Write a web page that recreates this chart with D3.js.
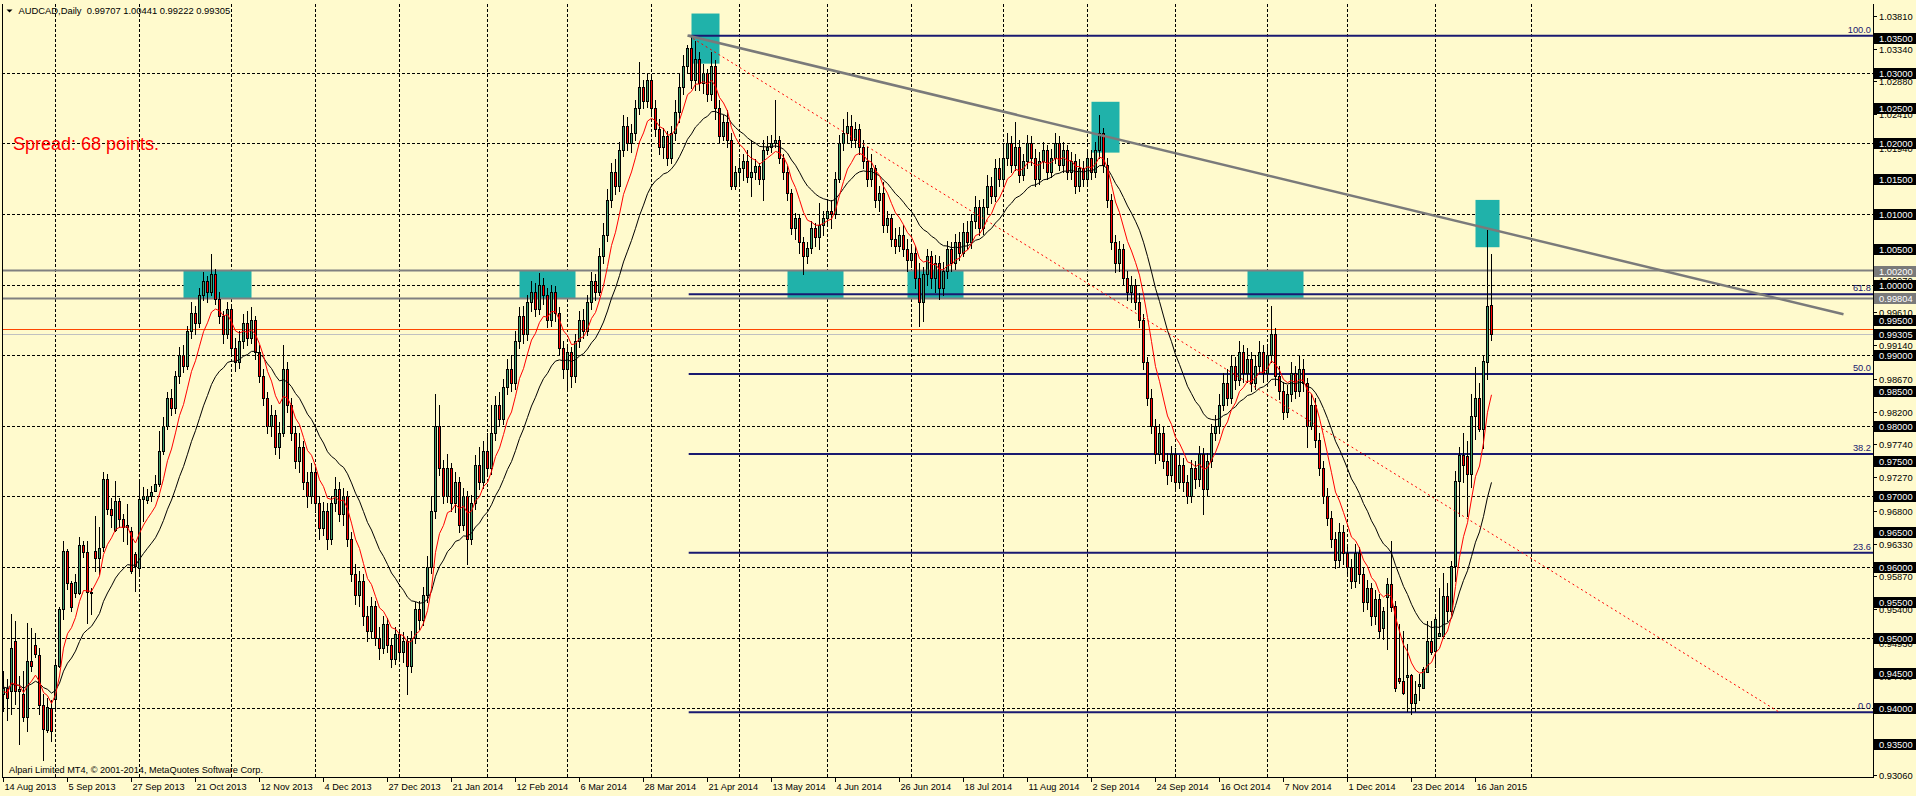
<!DOCTYPE html>
<html><head><meta charset="utf-8">
<script src="https://cdn.jsdelivr.net/npm/d3@7"></script>
<style>
html,body{margin:0;padding:0;background:#FFFACD;overflow:hidden;}
svg{display:block;font-family:"Liberation Sans",Arial,sans-serif;}
</style></head><body>
<svg id="c" width="1916" height="796"></svg>
<script>
// ---------- DATA ----------
const symbolTitle = "AUDCAD,Daily";
const lastQuote = ["0.99707", "1.00441", "0.99222", "0.99305"];
const spreadText = "Spread: 68 points.";
const copyright = "Alpari Limited MT4, \u00A9 2001-2014, MetaQuotes Software Corp.";
const firstBarDate = [2013, 8, 14];
const dateLabels = ["14 Aug 2013","5 Sep 2013","27 Sep 2013","21 Oct 2013","12 Nov 2013","4 Dec 2013","27 Dec 2013","21 Jan 2014","12 Feb 2014","6 Mar 2014","28 Mar 2014","21 Apr 2014","13 May 2014","4 Jun 2014","26 Jun 2014","18 Jul 2014","11 Aug 2014","2 Sep 2014","24 Sep 2014","16 Oct 2014","7 Nov 2014","1 Dec 2014","23 Dec 2014","16 Jan 2015"];
const dateLabelEvery = 16;
const priceTicks = ["1.03810","1.03340","1.02880","1.02410","1.01940","1.01470","1.01000","1.00540","1.00070","0.99610","0.99140","0.98670","0.98200","0.97740","0.97270","0.96800","0.96330","0.95870","0.95400","0.94930","0.94460","0.94000","0.93530","0.93060"];
const roundLevels = [1.035,1.030,1.025,1.020,1.015,1.010,1.005,1.000,0.995,0.990,0.985,0.980,0.975,0.970,0.965,0.960,0.955,0.950,0.945,0.940,0.935];
const gridLevels = [1.030,1.020,1.010,1.000,0.990,0.980,0.970,0.960,0.950,0.940];
const grayLevels = [1.00200, 0.99804];
const bidPrice = 0.99305, askPrice = 0.99373;
const futureGridBars = [382];

// daily OHLC, 14 Aug 2013 .. 22 Jan 2015 (373 bars)
const open = [
0.9420,0.9429,0.9425,0.9495,0.9424,0.9420,0.9387,0.9467,0.9489,0.9475,
0.9404,0.9369,0.9401,0.9413,0.9460,0.9540,0.9623,0.9577,0.9563,0.9563,
0.9631,0.9621,0.9565,0.9623,0.9613,0.9628,0.9724,0.9682,0.9652,0.9694,
0.9668,0.9656,0.9651,0.9618,0.9599,0.9696,0.9695,0.9700,0.9708,0.9717,
0.9765,
0.9800,0.9840,0.9825,0.9870,0.9900,0.9885,0.9935,0.9960,0.9945,0.9985,
1.0005,0.9990,1.0015,0.9980,0.9955,0.9930,0.9965,0.9910,0.9890,0.9920,
0.9945,0.9925,0.9950,0.9905,0.9870,0.9840,0.9800,0.9815,0.9770,0.9790,
0.9880,0.9830,0.9790,0.9750,0.9770,0.9720,0.9700,0.9735,0.9690,0.9655,
0.9680,0.9640,0.9690,0.9710,0.9675,0.9700,0.9640,0.9590,0.9560,0.9580,
0.9530,0.9510,0.9545,0.9500,0.9485,0.9520,0.9490,0.9470,0.9505,0.9480,
0.9495,0.9460,0.9500,0.9540,0.9525,0.9560,0.9600,0.9680,0.9800,0.9740,
0.9700,0.9740,0.9690,0.9720,0.9660,0.9700,0.9640,0.9690,0.9745,0.9720,
0.9765,0.9740,0.9790,0.9830,0.9810,0.9855,0.9880,0.9860,0.9920,0.9955,
0.9930,0.9975,0.9990,0.9965,1.0000,0.9985,0.9950,0.9990,0.9960,0.9910,
0.9880,0.9905,0.9870,0.9920,0.9950,0.9935,0.9975,1.0005,0.9990,1.0040,
1.0070,1.0120,1.0160,1.0140,1.0190,1.0225,1.0200,1.0215,1.0250,1.0280,
1.0260,1.0290,1.0250,1.0220,1.0195,1.0210,1.0180,1.0215,1.0245,1.0280,
1.0310,1.0335,1.0290,1.0320,1.0285,1.0300,1.0270,1.0310,1.0250,1.0210,
1.0230,1.0205,1.0140,1.0160,1.0165,1.0175,1.0152,1.0160,1.0168,1.0150,
1.0190,1.0195,1.0200,1.0205,1.0180,1.0160,1.0130,1.0080,1.0095,1.0060,
1.0040,1.0052,1.0080,1.0068,1.0085,1.0095,1.0105,1.0100,1.0150,1.0200,
1.0215,1.0225,1.0205,1.0220,1.0195,1.0175,1.0150,1.0165,1.0120,1.0130,
1.0085,1.0095,1.0065,1.0055,1.0070,1.0050,1.0035,1.0045,1.0010,0.9975,
1.0015,1.0040,1.0010,1.0030,0.9995,1.0020,1.0050,1.0030,1.0060,1.0045,
1.0075,1.0060,1.0090,1.0110,1.0080,1.0110,1.0140,1.0125,1.0165,1.0150,
1.0180,1.0200,1.0170,1.0195,1.0155,1.0175,1.0200,1.0180,1.0150,1.0175,
1.0190,1.0160,1.0180,1.0200,1.0170,1.0190,1.0160,1.0175,1.0140,1.0165,
1.0150,1.0180,1.0160,1.0190,1.0215,1.0170,1.0120,1.0060,1.0030,1.0050,
1.0010,0.9990,1.0000,0.9975,0.9950,0.9890,0.9840,0.9800,0.9760,0.9790,
0.9750,0.9730,0.9760,0.9720,0.9745,0.9720,0.9700,0.9740,0.9725,0.9760,
0.9710,0.9750,0.9790,0.9800,0.9830,0.9860,0.9840,0.9885,0.9865,0.9905,
0.9875,0.9895,0.9860,0.9885,0.9905,0.9875,0.9900,0.9930,0.9870,0.9850,
0.9820,0.9845,0.9875,0.9850,0.9880,0.9860,0.9800,0.9830,0.9780,0.9740,
0.9700,0.9670,0.9640,0.9610,0.9650,0.9620,0.9600,0.9580,0.9620,0.9590,
0.9550,0.9570,0.9530,0.9555,
0.9514,0.9557,0.9576,0.9545,0.9443,0.9439,0.9444,0.9447,0.9408,0.9431,
0.9429,0.9451,0.9495,0.9481,0.9502,0.9502,0.9559,0.9538,0.9602,0.9722,
0.9758,0.9757,0.9732,0.9814,0.9839,0.9795,0.9891,0.99707];
const high = [
0.9453,0.9441,0.9533,0.9524,0.9446,0.9453,0.9521,0.9514,0.9507,0.9486,
0.9420,0.9415,0.9411,0.9467,0.9543,0.9637,0.9625,0.9580,0.9590,0.9642,
0.9637,0.9637,0.9571,0.9672,0.9656,0.9734,0.9732,0.9698,0.9722,0.9698,
0.9675,0.9689,0.9656,0.9621,0.9720,0.9713,0.9710,0.9715,0.9731,0.9793,
0.9812,
0.9848,0.9852,0.9878,0.9912,0.9915,0.9942,0.9975,0.9970,0.9995,1.0018,
1.0012,1.0043,1.0022,0.9990,0.9962,0.9975,0.9970,0.9925,0.9935,0.9958,
0.9962,0.9968,0.9955,0.9915,0.9880,0.9848,0.9830,0.9822,0.9805,0.9915,
0.9890,0.9840,0.9800,0.9790,0.9778,0.9735,0.9748,0.9742,0.9700,0.9692,
0.9690,0.9700,0.9728,0.9720,0.9712,0.9708,0.9650,0.9605,0.9595,0.9590,
0.9545,0.9558,0.9552,0.9515,0.9530,0.9528,0.9500,0.9515,0.9512,0.9508,
0.9502,0.9510,0.9550,0.9552,0.9572,0.9615,0.9700,0.9845,0.9830,0.9752,
0.9760,0.9748,0.9735,0.9728,0.9712,0.9708,0.9702,0.9758,0.9770,0.9778,
0.9790,0.9830,0.9842,0.9848,0.9866,0.9895,0.9900,0.9935,0.9968,0.9970,
0.9985,1.0005,1.0002,1.0016,1.0010,0.9995,1.0000,0.9998,0.9968,0.9920,
0.9915,0.9912,0.9930,0.9962,0.9965,0.9985,1.0018,1.0015,1.0052,1.0088,
1.0135,1.0172,1.0178,1.0202,1.0240,1.0238,1.0228,1.0262,1.0315,1.0290,
1.0300,1.0298,1.0262,1.0235,1.0222,1.0218,1.0225,1.0262,1.0300,1.0325,
1.0340,1.0353,1.0345,1.0330,1.0312,1.0305,1.0330,1.0318,1.0262,1.0240,
1.0248,1.0215,1.0168,1.0180,1.0185,1.0190,1.0205,1.0178,1.0172,1.0205,
1.0210,1.0212,1.0262,1.0210,1.0185,1.0168,1.0135,1.0102,1.0100,1.0068,
1.0060,1.0090,1.0088,1.0115,1.0105,1.0118,1.0120,1.0160,1.0212,1.0235,
1.0245,1.0240,1.0230,1.0228,1.0205,1.0195,1.0185,1.0170,1.0140,1.0145,
1.0105,1.0100,1.0080,1.0082,1.0085,1.0065,1.0058,1.0055,1.0030,1.0025,
1.0050,1.0048,1.0042,1.0040,1.0032,1.0062,1.0060,1.0072,1.0075,1.0088,
1.0090,1.0100,1.0125,1.0120,1.0122,1.0155,1.0152,1.0178,1.0180,1.0195,
1.0215,1.0210,1.0230,1.0205,1.0185,1.0212,1.0210,1.0192,1.0188,1.0202,
1.0198,1.0192,1.0215,1.0210,1.0202,1.0198,1.0188,1.0185,1.0178,1.0175,
1.0192,1.0190,1.0202,1.0240,1.0222,1.0180,1.0128,1.0070,1.0062,1.0058,
1.0020,1.0012,1.0008,0.9988,0.9958,0.9898,0.9852,0.9810,0.9802,0.9798,
0.9762,0.9772,0.9768,0.9758,0.9755,0.9730,0.9752,0.9750,0.9772,0.9768,
0.9762,0.9802,0.9815,0.9845,0.9875,0.9880,0.9900,0.9898,0.9920,0.9915,
0.9910,0.9905,0.9900,0.9920,0.9915,0.9912,0.9970,0.9938,0.9885,0.9862,
0.9858,0.9890,0.9885,0.9900,0.9895,0.9868,0.9845,0.9840,0.9790,0.9750,
0.9712,0.9680,0.9650,0.9662,0.9660,0.9632,0.9612,0.9632,0.9628,0.9600,
0.9582,0.9578,0.9568,0.9562,
0.9543,0.9585,0.9637,0.9552,0.9519,0.9510,0.9491,0.9448,0.9439,0.9448,
0.9458,0.9524,0.9524,0.9533,0.9571,0.9592,0.9578,0.9609,0.9736,0.9770,
0.9790,0.9779,0.9845,0.9883,0.9861,0.9901,1.0078,1.00441];
const low = [
0.9396,0.9384,0.9392,0.9406,0.9349,0.9382,0.9368,0.9453,0.9472,0.9392,
0.9326,0.9366,0.9354,0.9401,0.9458,0.9526,0.9569,0.9538,0.9557,0.9562,
0.9614,0.9521,0.9533,0.9595,0.9590,0.9623,0.9675,0.9656,0.9651,0.9656,
0.9637,0.9632,0.9592,0.9566,0.9590,0.9665,0.9690,0.9694,0.9708,0.9715,
0.9760,
0.9795,0.9815,0.9818,0.9860,0.9876,0.9880,0.9925,0.9930,0.9940,0.9978,
0.9975,0.9985,0.9972,0.9945,0.9918,0.9925,0.9900,0.9878,0.9882,0.9910,
0.9915,0.9918,0.9895,0.9862,0.9830,0.9790,0.9785,0.9760,0.9755,0.9785,
0.9820,0.9780,0.9740,0.9735,0.9710,0.9685,0.9690,0.9678,0.9640,0.9645,
0.9625,0.9632,0.9680,0.9665,0.9660,0.9630,0.9580,0.9548,0.9545,0.9518,
0.9495,0.9500,0.9490,0.9470,0.9478,0.9480,0.9458,0.9462,0.9470,0.9465,
0.9420,0.9452,0.9492,0.9512,0.9518,0.9550,0.9592,0.9670,0.9730,0.9690,
0.9692,0.9680,0.9678,0.9650,0.9652,0.9605,0.9632,0.9682,0.9710,0.9712,
0.9730,0.9732,0.9780,0.9800,0.9802,0.9845,0.9850,0.9852,0.9910,0.9918,
0.9922,0.9962,0.9955,0.9958,0.9972,0.9940,0.9942,0.9948,0.9900,0.9868,
0.9850,0.9855,0.9862,0.9912,0.9925,0.9928,0.9965,0.9978,0.9985,1.0030,
1.0062,1.0110,1.0128,1.0132,1.0182,1.0190,1.0188,1.0205,1.0242,1.0250,
1.0252,1.0240,1.0210,1.0185,1.0180,1.0170,1.0172,1.0205,1.0230,1.0270,
1.0300,1.0278,1.0275,1.0275,1.0272,1.0260,1.0262,1.0235,1.0200,1.0205,
1.0195,1.0135,1.0135,1.0140,1.0148,1.0145,1.0125,1.0150,1.0142,1.0120,
1.0185,1.0188,1.0195,1.0172,1.0150,1.0120,1.0072,1.0065,1.0045,1.0015,
1.0030,1.0045,1.0055,1.0050,1.0070,1.0085,1.0080,1.0095,1.0145,1.0190,
1.0200,1.0195,1.0195,1.0185,1.0165,1.0140,1.0140,1.0110,1.0105,1.0075,
1.0075,1.0055,1.0045,1.0048,1.0040,1.0020,1.0025,0.9995,0.9942,0.9948,
1.0000,0.9995,0.9990,0.9980,0.9985,1.0010,1.0020,1.0022,1.0035,1.0040,
1.0050,1.0052,1.0080,1.0070,1.0072,1.0100,1.0115,1.0118,1.0140,1.0142,
1.0170,1.0160,1.0162,1.0145,1.0148,1.0165,1.0170,1.0140,1.0142,1.0165,
1.0150,1.0152,1.0172,1.0162,1.0160,1.0150,1.0150,1.0130,1.0132,1.0140,
1.0142,1.0150,1.0152,1.0180,1.0160,1.0110,1.0050,1.0018,1.0020,1.0000,
0.9978,0.9975,0.9965,0.9940,0.9880,0.9830,0.9790,0.9748,0.9752,0.9740,
0.9718,0.9722,0.9710,0.9712,0.9708,0.9690,0.9692,0.9712,0.9715,0.9675,
0.9700,0.9742,0.9780,0.9790,0.9822,0.9830,0.9832,0.9852,0.9858,0.9862,
0.9862,0.9850,0.9852,0.9875,0.9862,0.9865,0.9890,0.9858,0.9838,0.9810,
0.9812,0.9835,0.9840,0.9842,0.9850,0.9770,0.9795,0.9770,0.9730,0.9690,
0.9660,0.9628,0.9598,0.9600,0.9605,0.9588,0.9570,0.9572,0.9578,0.9538,
0.9540,0.9518,0.9520,0.9500,
0.9498,0.9484,0.9538,0.9425,0.9436,0.9420,0.9396,0.9392,0.9396,0.9411,
0.9429,0.9451,0.9477,0.9458,0.9502,0.9500,0.9524,0.9533,0.9580,0.9672,
0.9720,0.9672,0.9713,0.9781,0.9793,0.9769,0.9867,0.99222];
const close = [
0.9429,0.9415,0.9486,0.9425,0.9427,0.9387,0.9467,0.9460,0.9477,0.9404,
0.9370,0.9402,0.9368,0.9461,0.9540,0.9623,0.9577,0.9544,0.9579,0.9631,
0.9621,0.9564,0.9563,0.9613,0.9627,0.9724,0.9682,0.9674,0.9694,0.9668,
0.9656,0.9660,0.9595,0.9602,0.9696,0.9700,0.9701,0.9706,0.9718,0.9765,
0.9800,
0.9840,0.9825,0.9870,0.9900,0.9885,0.9935,0.9960,0.9945,0.9985,1.0005,
0.9990,1.0015,0.9980,0.9955,0.9930,0.9965,0.9910,0.9890,0.9920,0.9945,
0.9925,0.9950,0.9905,0.9870,0.9840,0.9800,0.9815,0.9770,0.9790,0.9880,
0.9830,0.9790,0.9750,0.9770,0.9720,0.9700,0.9735,0.9690,0.9655,0.9680,
0.9640,0.9690,0.9710,0.9675,0.9700,0.9640,0.9590,0.9560,0.9580,0.9530,
0.9510,0.9545,0.9500,0.9485,0.9520,0.9490,0.9470,0.9505,0.9480,0.9495,
0.9460,0.9500,0.9540,0.9525,0.9560,0.9600,0.9680,0.9800,0.9740,0.9700,
0.9740,0.9690,0.9720,0.9660,0.9700,0.9640,0.9690,0.9745,0.9720,0.9765,
0.9740,0.9790,0.9830,0.9810,0.9855,0.9880,0.9860,0.9920,0.9955,0.9930,
0.9975,0.9990,0.9965,1.0000,0.9985,0.9950,0.9990,0.9960,0.9910,0.9880,
0.9905,0.9870,0.9920,0.9950,0.9935,0.9975,1.0005,0.9990,1.0040,1.0070,
1.0120,1.0160,1.0140,1.0190,1.0225,1.0200,1.0215,1.0250,1.0280,1.0260,
1.0290,1.0250,1.0220,1.0195,1.0210,1.0180,1.0215,1.0245,1.0280,1.0310,
1.0335,1.0290,1.0320,1.0285,1.0300,1.0270,1.0310,1.0250,1.0210,1.0230,
1.0205,1.0140,1.0160,1.0165,1.0175,1.0152,1.0160,1.0168,1.0150,1.0190,
1.0195,1.0200,1.0205,1.0180,1.0160,1.0130,1.0080,1.0095,1.0060,1.0040,
1.0052,1.0080,1.0068,1.0085,1.0095,1.0105,1.0100,1.0150,1.0200,1.0215,
1.0225,1.0205,1.0220,1.0195,1.0175,1.0150,1.0165,1.0120,1.0130,1.0085,
1.0095,1.0065,1.0055,1.0070,1.0050,1.0035,1.0045,1.0010,0.9975,1.0015,
1.0040,1.0010,1.0030,0.9995,1.0020,1.0050,1.0030,1.0060,1.0045,1.0075,
1.0060,1.0090,1.0110,1.0080,1.0110,1.0140,1.0125,1.0165,1.0150,1.0180,
1.0200,1.0170,1.0195,1.0155,1.0175,1.0200,1.0180,1.0150,1.0175,1.0190,
1.0160,1.0180,1.0200,1.0170,1.0190,1.0160,1.0175,1.0140,1.0165,1.0150,
1.0180,1.0160,1.0190,1.0215,1.0170,1.0120,1.0060,1.0030,1.0050,1.0010,
0.9990,1.0000,0.9975,0.9950,0.9890,0.9840,0.9800,0.9760,0.9790,0.9750,
0.9730,0.9760,0.9720,0.9745,0.9720,0.9700,0.9740,0.9725,0.9760,0.9710,
0.9750,0.9790,0.9800,0.9830,0.9860,0.9840,0.9885,0.9865,0.9905,0.9875,
0.9895,0.9860,0.9885,0.9905,0.9875,0.9900,0.9930,0.9870,0.9850,0.9820,
0.9845,0.9875,0.9850,0.9880,0.9860,0.9800,0.9830,0.9780,0.9740,0.9700,
0.9670,0.9640,0.9610,0.9650,0.9620,0.9600,0.9580,0.9620,0.9590,0.9550,
0.9570,0.9530,0.9555,0.9510,
0.9538,0.9576,0.9543,0.9429,0.9439,0.9422,0.9447,0.9408,0.9420,0.9434,
0.9455,0.9495,0.9479,0.9526,0.9506,0.9559,0.9538,0.9602,0.9722,0.9758,
0.9745,0.9732,0.9814,0.9840,0.9795,0.9892,0.9970,0.99305];

const fibLevels = [0.0, 23.6, 38.2, 50.0, 61.8, 100.0];
const fibBar1 = 171.3, fibHigh = 1.03524, fibBar2 = 444, fibLow = 0.93942;
const trendBars = [171, 460], trendPrices = [1.0353, 0.9958];
const zoneBars = [[45,62],[129,143],[196,210],[226,240],[311,325],[172,179],[272,279],[368,374]];
const zonePrices = [[1.0020,0.99804],[1.0020,0.99804],[1.0020,0.99804],[1.0020,0.99804],[1.0020,0.99804],[1.0384,1.0313],[1.0259,1.0187],[1.0120,1.0053]];
const maPeriods = [8, 21];
const maStart = [0.9422, 0.9430];

const n = close.length;

// ---------- LAYOUT ----------
const W=1916, H=796;
const P = {left:2, right:1873, top:4, bottom:777};
const x = d3.scaleLinear().domain([0, 467]).range([3.5, 3.5 + 4*467]);
const y = d3.scaleLinear().domain([0.93026, 1.03975]).range([777, 4]);
const py = p => Math.round(y(p)) + 0.5;
const px = i => Math.round(x(i) - 0.5) + 0.5;
const BG="#FFFACD", NAVY="#191970", TEAL="#20B2AA", GREEN="#3E9C6C", RED="#FF0000";

const svg = d3.select("#c");
svg.append("rect").attr("width",W).attr("height",H).attr("fill",BG);
svg.append("defs").append("clipPath").attr("id","pc").append("rect")
  .attr("x",P.left).attr("y",P.top).attr("width",P.right-P.left).attr("height",P.bottom-P.top);
const g = svg.append("g").attr("clip-path","url(#pc)");

// calendar of trading days
const dates=[]; {let d=new Date(Date.UTC(firstBarDate[0],firstBarDate[1]-1,firstBarDate[2]));
 while(dates.length<n){const wd=d.getUTCDay(); const md=(d.getUTCMonth()+1)*100+d.getUTCDate();
  if(wd!==0&&wd!==6&&md!==1225&&md!==101) dates.push(new Date(d)); d.setUTCDate(d.getUTCDate()+1);}}
const monthStarts = dates.map((dt,i)=> (i>0 && dt.getUTCMonth()!==dates[i-1].getUTCMonth()) ? i : -1).filter(i=>i>=0).concat(futureGridBars);

// grid
const grid = g.append("g").attr("stroke","#000").attr("stroke-width",1).attr("stroke-dasharray","3,2").attr("shape-rendering","crispEdges");
grid.selectAll("line.v").data(monthStarts).join("line").attr("class","v")
  .attr("x1",d=>px(d)).attr("x2",d=>px(d)).attr("y1",P.top).attr("y2",P.bottom);
grid.selectAll("line.h").data(gridLevels).join("line").attr("class","h")
  .attr("x1",P.left).attr("x2",P.right).attr("y1",d=>py(d)).attr("y2",d=>py(d));

// zones
g.append("g").selectAll("rect").data(zoneBars).join("rect")
  .attr("x",d=>x(d[0])).attr("width",d=>x(d[1])-x(d[0]))
  .attr("y",(d,i)=>y(zonePrices[i][0])).attr("height",(d,i)=>y(zonePrices[i][1])-y(zonePrices[i][0]))
  .attr("fill",TEAL);

// horizontal lines
g.append("g").selectAll("line").data(grayLevels).join("line")
  .attr("x1",P.left).attr("x2",P.right).attr("y1",d=>y(d)).attr("y2",d=>y(d))
  .attr("stroke","#808080").attr("stroke-width",2);
g.append("line").attr("x1",P.left).attr("x2",P.right).attr("y1",py(askPrice)).attr("y2",py(askPrice)).attr("stroke","#FF4500").attr("stroke-width",1);
g.append("line").attr("x1",P.left).attr("x2",P.right).attr("y1",py(bidPrice)).attr("y2",py(bidPrice)).attr("stroke","#C0C0C0").attr("stroke-width",1);

// fibonacci
const fibPrice = lv => fibLow + (fibHigh-fibLow)*lv/100;
const fg = g.append("g");
fg.selectAll("line").data(fibLevels).join("line")
  .attr("x1",x(fibBar1)).attr("x2",P.right).attr("y1",d=>y(fibPrice(d))).attr("y2",d=>y(fibPrice(d)))
  .attr("stroke",NAVY).attr("stroke-width",2);
fg.selectAll("text").data(fibLevels).join("text")
  .attr("x",P.right-2).attr("y",d=>y(fibPrice(d))-3).attr("text-anchor","end")
  .attr("font-size","9.3px").attr("fill",NAVY).text(d=>d.toFixed(1));

// candles
const cg = g.append("g").attr("shape-rendering","crispEdges");
const idx = d3.range(n);
cg.selectAll("line").data(idx).join("line")
  .attr("x1",i=>px(i)).attr("x2",i=>px(i))
  .attr("y1",i=>Math.round(y(high[i]))).attr("y2",i=>Math.round(y(low[i]))+1)
  .attr("stroke","#000").attr("stroke-width",1);
cg.selectAll("rect").data(idx).join("rect")
  .attr("x",i=>px(i)-1).attr("width",2)
  .attr("y",i=>Math.round(y(Math.max(open[i],close[i])))+0.5)
  .attr("height",i=>Math.max(0,Math.round(y(Math.min(open[i],close[i])))-Math.round(y(Math.max(open[i],close[i])))))
  .attr("fill",i=>close[i]>=open[i]?GREEN:RED).attr("stroke","#000").attr("stroke-width",1);

// moving averages (exponential, from closes)
function ema(period, start){const k=2/(period+1); let e=start; return close.map(c=> (e = e + k*(c-e)));}
const ma1 = ema(maPeriods[0], maStart[0]), ma2 = ema(maPeriods[1], maStart[1]);
const lineGen = d3.line().x((d,i)=>x(i)).y(d=>y(d));
g.append("path").attr("d",lineGen(ma2)).attr("fill","none").attr("stroke","#000").attr("stroke-width",1);
g.append("path").attr("d",lineGen(ma1)).attr("fill","none").attr("stroke","#FF0000").attr("stroke-width",1);

// trend lines
g.append("line").attr("x1",x(fibBar1)).attr("y1",y(fibHigh)).attr("x2",x(fibBar2)).attr("y2",y(fibLow))
  .attr("stroke","#FF0000").attr("stroke-width",1).attr("stroke-dasharray","2,3");
g.append("line").attr("x1",x(trendBars[0])).attr("y1",y(trendPrices[0])).attr("x2",x(trendBars[1])).attr("y2",y(trendPrices[1]))
  .attr("stroke","#7A7A7A").attr("stroke-width",2.5);

// frame
const fr = svg.append("g").attr("stroke","#000").attr("stroke-width",1).attr("shape-rendering","crispEdges");
fr.append("line").attr("x1",P.left+0.5).attr("x2",P.left+0.5).attr("y1",P.top).attr("y2",P.bottom+1);
fr.append("line").attr("x1",P.right+0.5).attr("x2",P.right+0.5).attr("y1",P.top).attr("y2",P.bottom+1);
fr.append("line").attr("x1",P.left).attr("x2",P.right+1).attr("y1",P.bottom+0.5).attr("y2",P.bottom+0.5);

// texts
svg.append("path").attr("d","M6.5,9.5 L12.5,9.5 L9.5,12.5 Z").attr("fill","#000");
svg.append("text").attr("x",18.5).attr("y",14).attr("font-size","9.4px").attr("fill","#000")
  .style("white-space","pre").text(symbolTitle + "  " + lastQuote.join(" "));
svg.append("text").attr("x",13).attr("y",150).attr("font-size","18px").attr("fill","#FF0000").text(spreadText);
svg.append("text").attr("x",9).attr("y",773).attr("font-size","9.2px").attr("fill","#000").text(copyright);

// date axis
const dg = svg.append("g");
dateLabels.forEach((t,k)=>{const i=k*dateLabelEvery; const xx=px(i);
  dg.append("line").attr("x1",xx).attr("x2",xx).attr("y1",P.bottom).attr("y2",P.bottom+5).attr("stroke","#000").attr("shape-rendering","crispEdges");
  dg.append("text").attr("x",xx+1).attr("y",790).attr("font-size","9.2px").attr("fill","#000").text(t);});

// price axis
const ag = svg.append("g");
priceTicks.forEach(t=>{const yy=py(+t);
  ag.append("line").attr("x1",P.right).attr("x2",P.right+4).attr("y1",yy).attr("y2",yy).attr("stroke","#000").attr("shape-rendering","crispEdges");
  ag.append("text").attr("x",1879).attr("y",yy+3.3).attr("font-size","9.3px").attr("fill","#000").text(t);});
function boxLabel(p, fill){const yy=Math.round(y(p));
  ag.append("rect").attr("x",1874).attr("y",yy-5).attr("width",42).attr("height",11).attr("fill",fill);
  ag.append("text").attr("x",1879).attr("y",yy+3.5).attr("font-size","9.3px").attr("fill","#fff").text(p.toFixed(5));}
roundLevels.forEach(p=>boxLabel(p,"#000"));
grayLevels.forEach(p=>boxLabel(p,"#7A7A7A"));
boxLabel(bidPrice,"#000");
</script></body></html>
